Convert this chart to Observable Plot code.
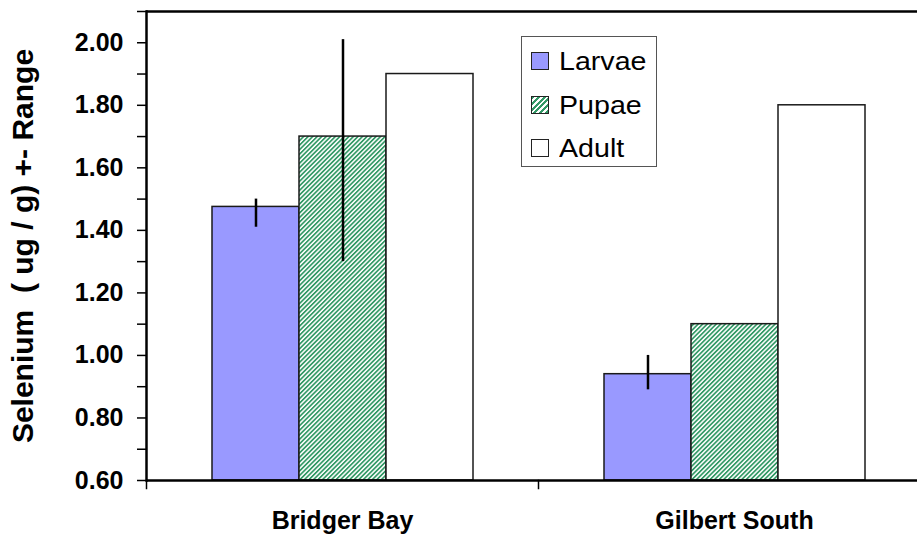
<!DOCTYPE html>
<html>
<head>
<meta charset="utf-8">
<script src="https://cdn.jsdelivr.net/npm/d3@7"></script>
<script src="https://cdn.jsdelivr.net/npm/@observablehq/plot@0.6"></script>
<style>
  html, body { margin: 0; padding: 0; background: #fff; }
  body { font-family: "Liberation Sans", Arial, sans-serif; }
  #wrap { position: relative; width: 917px; height: 538px; overflow: hidden; }
  #wrap svg.plot-svg { position: absolute; left: 0; top: 0; overflow: hidden; }
  #legend { position: absolute; left: 521px; top: 36px; width: 134px; height: 129px;
            border: 1px solid #555; background: #fff; box-sizing: content-box; }
  .lrow { position: absolute; left: 9px; height: 18px; display: flex; align-items: center; }
  .sw { width: 16px; height: 16px; border: 1px solid #222; }
  .lt { margin-left: 10px; font-size: 26px; line-height: 26px; color: #000;
        transform: scaleX(1.1); transform-origin: left center; white-space: nowrap; }
</style>
</head>
<body>
<svg width="0" height="0" style="position:absolute">
  <defs>
    <pattern id="hatch" patternUnits="userSpaceOnUse" width="3.2" height="3.2" patternTransform="rotate(45)">
      <rect width="3.2" height="3.2" fill="#ffffff"></rect>
      <rect width="1.7" height="3.2" fill="#339966"></rect>
    </pattern>
  </defs>
</svg>
<div id="wrap">
  <div id="legend"></div>
</div>
<script>
// ---------- data ----------
const sites = ["Bridger Bay", "Gilbert South"];
const stages = ["Larvae", "Pupae", "Adult"];
const bridgerMean = [1.475, 1.70, 1.90];
const bridgerLow  = [1.41, 1.30, 1.90];
const bridgerHigh = [1.50, 2.01, 1.90];
const gilbertMean = [0.94, 1.10, 1.80];
const gilbertLow  = [0.89, 1.10, 1.80];
const gilbertHigh = [1.00, 1.10, 1.80];
const yDomain = [0.6, 2.1];
const yTicks = [0.6, 0.7, 0.8, 0.9, 1.0, 1.1, 1.2, 1.3, 1.4, 1.5, 1.6, 1.7, 1.8, 1.9, 2.0, 2.1];
const yLabels = [0.6, 0.8, 1.0, 1.2, 1.4, 1.6, 1.8, 2.0];
const yTitle = "Selenium  ( ug / g) +- Range";

// ---------- styles ----------
const stageFill = ["#9999FF", "url(#hatch)", "#FFFFFF"];
const swatchBg = ["#9999FF", "repeating-linear-gradient(135deg, #339966 0 2px, #ffffff 2px 4px)", "#FFFFFF"];

// ---------- table ----------
const series = [
  {site: sites[0], mean: bridgerMean, lo: bridgerLow, hi: bridgerHigh},
  {site: sites[1], mean: gilbertMean, lo: gilbertLow, hi: gilbertHigh}
];
const rows = series.flatMap(s => stages.map((st, i) => ({
  site: s.site, stage: st, value: s.mean[i], lo: s.lo[i], hi: s.hi[i]
})));

const fmt = d3.format(".2f");

const chart = Plot.plot({
  width: 917,
  height: 538,
  marginLeft: 146,
  marginRight: -13,
  marginTop: 11,
  marginBottom: 58,
  style: {fontFamily: "Liberation Sans, Arial, sans-serif", color: "#000", background: "transparent"},
  fx: {domain: sites, paddingInner: 0, paddingOuter: 0},
  x: {domain: stages, paddingInner: 0, paddingOuter: 0.745, axis: null},
  y: {domain: yDomain},
  marks: [
    ...stages.map((s, i) => Plot.barY(rows, {
      filter: d => d.stage === s,
      fx: "site", x: "stage", y1: yDomain[0], y2: "value",
      fill: stageFill[i], stroke: "#1a1a1a", strokeWidth: 1.5
    })),
    Plot.ruleX(rows, {fx: "site", x: "stage", y1: "lo", y2: "hi", stroke: "#000", strokeWidth: 2.5}),
    Plot.ruleY(yDomain, {stroke: "#000", strokeWidth: 2.5}),
    Plot.frame({anchor: "left", fx: [sites[0]], stroke: "#000", strokeWidth: 2.5}),
    Plot.frame({anchor: "left", insetTop: 469, insetBottom: -8, stroke: "#000", strokeWidth: 1.5}),
    Plot.axisY({
      ticks: yTicks, tickSize: 9, tickPadding: 14, strokeWidth: 1.5,
      tickFormat: d => yLabels.some(v => Math.abs(v - d) < 1e-9) ? fmt(d) : "",
      fontSize: 25, fontWeight: "bold", label: null
    }),
    Plot.axisY({
      ticks: [], tickSize: 0, label: yTitle, labelAnchor: "center", labelOffset: 135,
      labelArrow: "none", fontSize: 30, fontWeight: "bold"
    }),
    Plot.axisFx({
      anchor: "bottom", tickSize: 0, tickPadding: 31, fontSize: 25, fontWeight: "bold", label: null
    })
  ]
});

chart.classList.add("plot-svg");
const wrap = document.getElementById("wrap");
wrap.insertBefore(chart, wrap.firstChild);

// legend
const legend = document.getElementById("legend");
stages.forEach((s, i) => {
  const row = document.createElement("div");
  row.className = "lrow";
  row.style.top = (15 + 43.5 * i) + "px";
  const sw = document.createElement("div");
  sw.className = "sw";
  sw.style.background = swatchBg[i];
  const t = document.createElement("span");
  t.className = "lt";
  t.textContent = s;
  row.appendChild(sw);
  row.appendChild(t);
  legend.appendChild(row);
});
</script>
</body>
</html>
